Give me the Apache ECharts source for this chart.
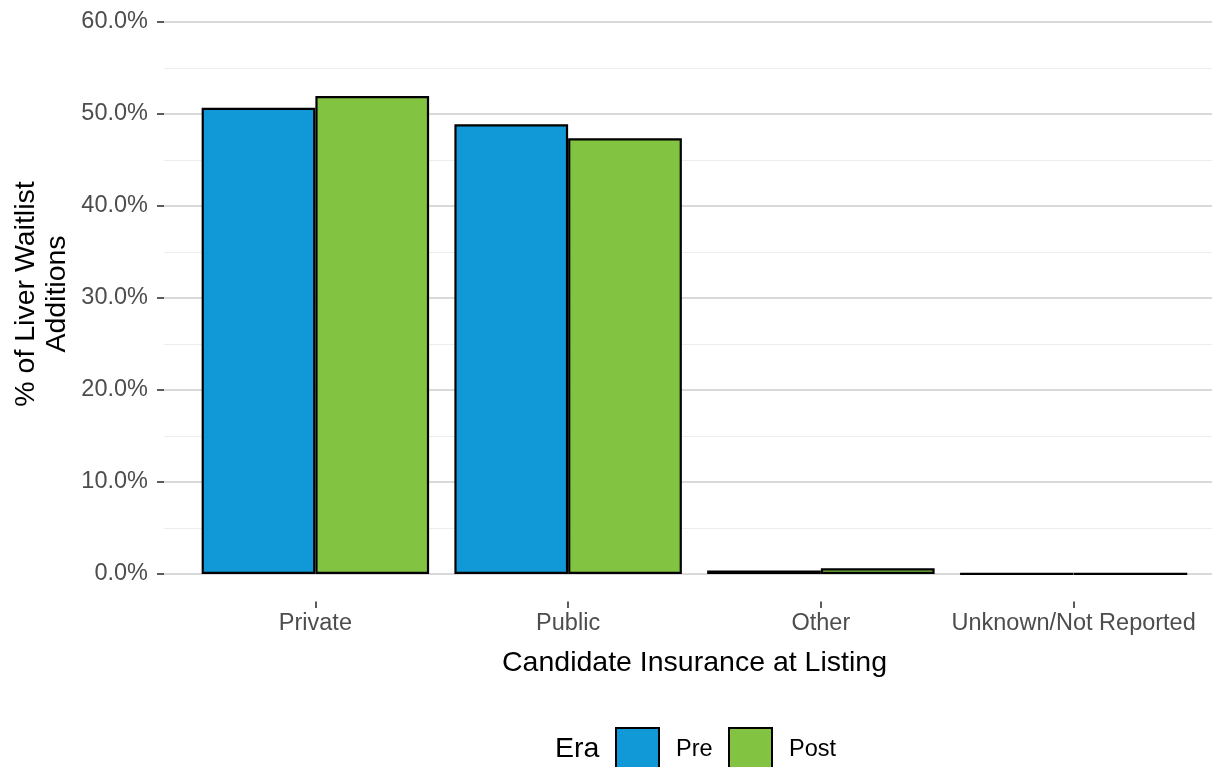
<!DOCTYPE html>
<html>
<head>
<meta charset="utf-8">
<script src="https://cdn.jsdelivr.net/npm/echarts@6/dist/echarts.min.js"></script>
<style>
html,body{margin:0;padding:0;background:#fff;}
#c{width:1212px;height:767px;}
</style>
</head>
<body>
<div id="c"></div>
<script>
const categories = ['Private', 'Public', 'Other', 'Unknown/Not Reported'];
const preValues = [50.68, 48.88, 0.38, 0.04];
const postValues = [51.96, 47.36, 0.62, 0.03];
const yTicks = [0, 10, 20, 30, 40, 50, 60];

const FONT = "'Liberation Sans', Arial, sans-serif";
const chart = echarts.init(document.getElementById('c'), null, {renderer: 'canvas'});

const option = {
  backgroundColor: '#ffffff',
  animation: false,
  textStyle: {fontFamily: FONT},
  grid: [
    {left: 164, width: 1060, top: 22, height: 552},
    {left: 189, width: 1011, top: 22, height: 579.6}
  ],
  xAxis: [
    {gridIndex: 0, type: 'value', min: 0, max: 1, show: false},
    {
      gridIndex: 1, type: 'category', data: categories,
      axisLine: {show: false, onZero: false},
      axisTick: {show: true, alignWithLabel: true, length: 6.5, lineStyle: {color: '#333333', width: 1.6}},
      axisLabel: {color: '#4d4d4d', fontSize: 23.5, fontFamily: FONT, margin: 10, interval: 0},
      splitLine: {show: false},
      name: 'Candidate Insurance at Listing',
      nameLocation: 'middle',
      nameGap: 47,
      nameTextStyle: {color: '#000000', fontSize: 28.5, fontFamily: FONT}
    }
  ],
  yAxis: [
    {
      gridIndex: 0, type: 'value', min: yTicks[0], max: yTicks[yTicks.length - 1], interval: 10,
      axisLine: {show: false},
      axisTick: {show: true, length: 7, lineStyle: {color: '#333333', width: 1.6}},
      axisLabel: {color: '#4d4d4d', fontSize: 23.5, fontFamily: FONT, margin: 16,
        formatter: v => v.toFixed(1) + '%'},
      splitLine: {show: true, lineStyle: {color: '#d9d9d9', width: 1.8}},
      minorTick: {show: false, splitNumber: 2},
      minorSplitLine: {show: true, lineStyle: {color: '#ededed', width: 1}}
    },
    {gridIndex: 1, type: 'value', min: -3, max: 60, show: false}
  ],
  legend: [
    {
      data: ['Pre'], left: 610, top: 722, orient: 'horizontal', icon: 'rect',
      itemWidth: 43, itemHeight: 43, itemGap: 0,
      textStyle: {fontSize: 23.5, color: '#000', fontFamily: FONT, padding: [0, 0, 0, 12]},
      selectedMode: false
    },
    {
      data: ['Post'], left: 723, top: 722, orient: 'horizontal', icon: 'rect',
      itemWidth: 43, itemHeight: 43, itemGap: 0,
      textStyle: {fontSize: 23.5, color: '#000', fontFamily: FONT, padding: [0, 0, 0, 12]},
      selectedMode: false
    }
  ],
  graphic: [
    {
      type: 'text', x: 42, y: 294, rotation: Math.PI / 2,
      style: {text: '% of Liver Waitlist\nAdditions', fill: '#000', font: "28.5px 'Liberation Sans', Arial, sans-serif",
        align: 'center', verticalAlign: 'middle', lineHeight: 31}
    },
    {
      type: 'text', x: 555, y: 749,
      style: {text: 'Era', fill: '#000', font: "28.5px 'Liberation Sans', Arial, sans-serif",
        align: 'left', verticalAlign: 'middle'}
    }
  ],
  series: [
    {
      name: 'Pre', type: 'bar', xAxisIndex: 1, yAxisIndex: 1, data: preValues,
      barGap: '0%', barCategoryGap: '10%',
      itemStyle: {color: '#1198d6', borderColor: '#000000', borderWidth: 2.2}
    },
    {
      name: 'Post', type: 'bar', xAxisIndex: 1, yAxisIndex: 1, data: postValues,
      barGap: '0%', barCategoryGap: '10%',
      itemStyle: {color: '#82c341', borderColor: '#000000', borderWidth: 2.2}
    }
  ]
};
chart.setOption(option);
</script>
</body>
</html>
